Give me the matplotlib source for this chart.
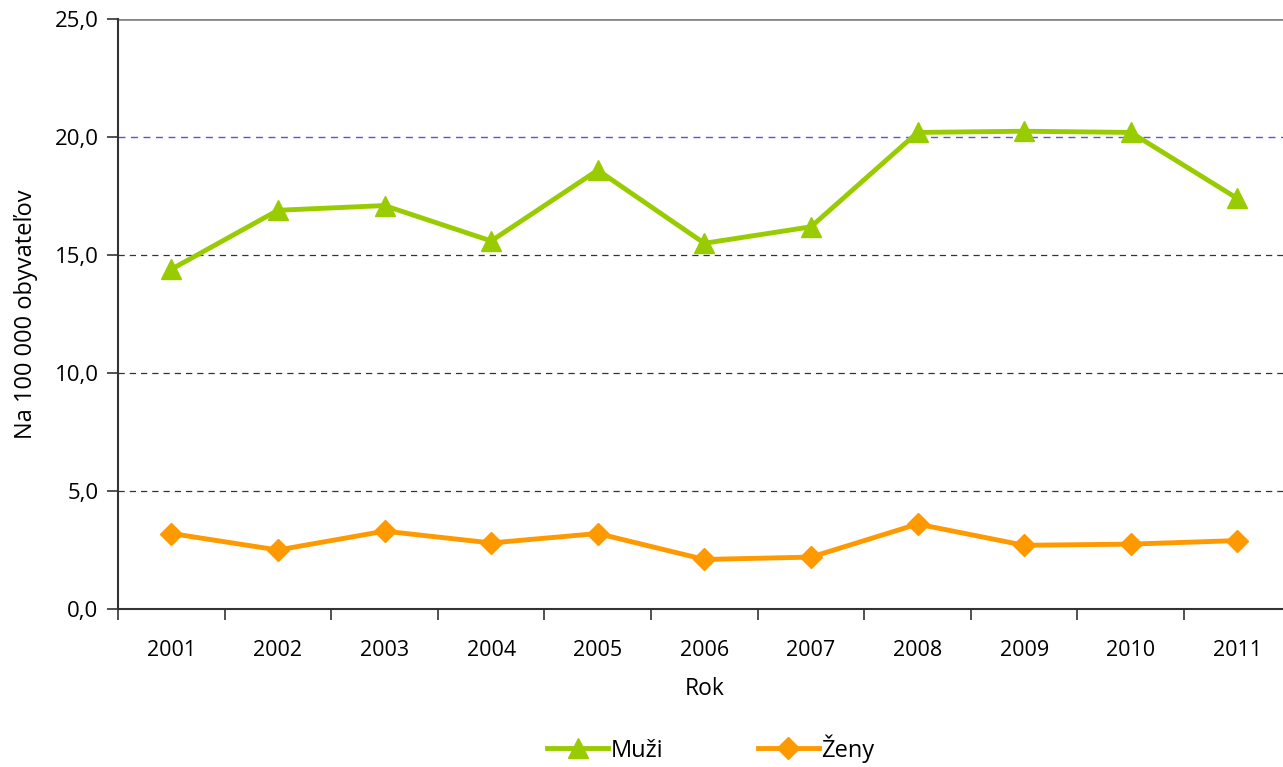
import numpy as np
import matplotlib.pyplot as plt
from matplotlib.ticker import FuncFormatter, FixedLocator

roky = ['2001', '2002', '2003', '2004', '2005', '2006', '2007', '2008', '2009', '2010', '2011']
muzi = [14.4, 16.9, 17.1, 15.6, 18.6, 15.5, 16.2, 20.2, 20.25, 20.2, 17.4]
zeny = [3.2, 2.5, 3.3, 2.8, 3.2, 2.1, 2.2, 3.6, 2.7, 2.75, 2.9]

plt.rcParams['font.family'] = ['Open Sans', 'DejaVu Sans']

fig = plt.figure(figsize=(12.83, 7.67), dpi=100)
ax = fig.add_axes([0.092, 0.206, 0.914, 0.769])

x = np.arange(1, len(roky) + 1)

# mriezka
for v in [5, 10, 15]:
    ax.axhline(v, color='#333333', lw=0.9, ls=(0, (5, 4)), zorder=1)
ax.axhline(20, color='#5555ee', lw=1.0, ls=(0, (5, 4)), zorder=1)
ax.axhline(25, color='#888888', lw=2.0, zorder=1)

ax.plot(x, muzi, color='#99cc00', lw=3.5, marker='^', ms=15, label='Muži', zorder=3)
ax.plot(x, zeny, color='#ff9900', lw=3.5, marker='D', ms=11, label='Ženy', zorder=3)

ax.set_xlim(0.5, len(roky) + 0.5)
ax.set_ylim(0, 25)
ax.set_yticks([0, 5, 10, 15, 20, 25])
ax.yaxis.set_major_formatter(FuncFormatter(lambda v, p: f'{v:.1f}'.replace('.', ',')))

ax.set_xticks(x)
ax.set_xticklabels(roky)
ax.xaxis.set_minor_locator(FixedLocator(np.arange(0.5, len(roky) + 1, 1)))
ax.tick_params(axis='x', which='major', length=0, labelsize=15.5, pad=22)
ax.tick_params(axis='x', which='minor', length=8, width=1.2, color='#333333', direction='out')
ax.tick_params(axis='y', length=8, width=1.2, color='#333333', labelsize=16, pad=6)

for s in ['top', 'right']:
    ax.spines[s].set_visible(False)
ax.spines['left'].set_color('#333333')
ax.spines['left'].set_linewidth(1.5)
ax.spines['bottom'].set_color('#333333')
ax.spines['bottom'].set_linewidth(1.5)

ax.set_xlabel('Rok', fontsize=16.5, labelpad=12)
ax.set_ylabel('Na 100 000 obyvateľov', fontsize=17, labelpad=12)

fig.legend(loc='lower center', bbox_to_anchor=(0.554, -0.022), ncol=2, frameon=False,
           fontsize=17, handlelength=2.6, columnspacing=4.0, handletextpad=0.1)

fig.savefig('out.png', dpi=100)
